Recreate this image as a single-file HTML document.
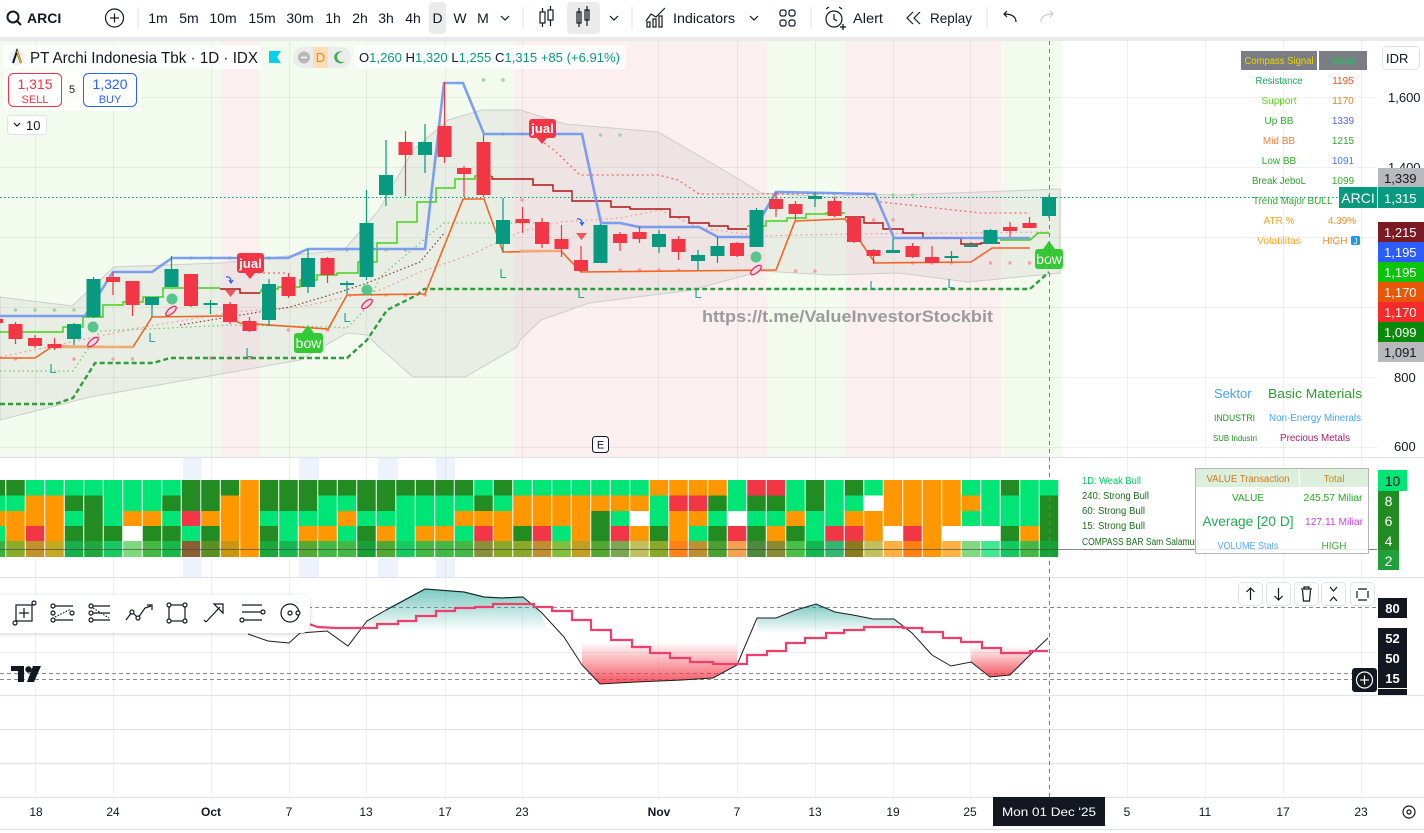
<!DOCTYPE html>
<html><head><meta charset="utf-8"><title>ARCI</title>
<style>
html,body{margin:0;padding:0;background:#fff;width:1424px;height:833px;overflow:hidden}
svg{display:block;font-family:"Liberation Sans",Arial,sans-serif}
.D{fill:#228b22}.G{fill:#00e676}.O{fill:#ff9800}.R{fill:#f23645}.W{fill:#ffffff}
.tb{font-size:14px;fill:#131722;text-anchor:middle}
.ax{font-size:13px;fill:#131722}
.tm{font-size:12px;fill:#131722;text-anchor:middle}
.tl{font-size:10px;text-anchor:middle}
.L{font-size:13px;fill:#26a69a;text-anchor:middle}
</style></head><body>
<svg width="1424" height="833" viewBox="0 0 1424 833" xmlns="http://www.w3.org/2000/svg">
<defs>
<linearGradient id="tg" x1="0" y1="0" x2="0" y2="1"><stop offset="0" stop-color="#26a69a" stop-opacity=".6"/><stop offset="1" stop-color="#26a69a" stop-opacity="0"/></linearGradient>
<linearGradient id="rg" x1="0" y1="0" x2="0" y2="1"><stop offset="0" stop-color="#f23645" stop-opacity="0"/><stop offset="1" stop-color="#f23645" stop-opacity=".85"/></linearGradient>
<filter id="sh" x="-10%" y="-30%" width="120%" height="160%"><feDropShadow dx="0" dy="1" stdDeviation="2" flood-color="#000" flood-opacity=".18"/></filter>
</defs>
<rect width="1424" height="833" fill="#fff"/>

<!-- TOP TOOLBAR -->
<rect x="0" y="37" width="1424" height="4" fill="#e9e9ea"/>
<circle cx="13" cy="17" r="5.5" fill="none" stroke="#131722" stroke-width="2"/>
<line x1="17" y1="21" x2="21" y2="25" stroke="#131722" stroke-width="2"/>
<text x="27" y="23" font-size="14" font-weight="bold" fill="#131722">ARCI</text>
<circle cx="114.5" cy="18" r="9" fill="none" stroke="#131722" stroke-width="1.2"/>
<line x1="110" y1="18" x2="119" y2="18" stroke="#131722" stroke-width="1.2"/><line x1="114.5" y1="13.5" x2="114.5" y2="22.5" stroke="#131722" stroke-width="1.2"/>
<g stroke="#e0e3eb" stroke-width="1"><line x1="138" y1="7" x2="138" y2="29"/><line x1="523" y1="7" x2="523" y2="29"/><line x1="632" y1="7" x2="632" y2="29"/><line x1="811" y1="7" x2="811" y2="29"/><line x1="987" y1="7" x2="987" y2="29"/></g>
<rect x="429" y="2" width="17" height="32" rx="4" fill="#ebebeb"/>
<rect x="567" y="2" width="33" height="32" rx="4" fill="#ebebeb"/>
<text class="tb" x="158" y="23">1m</text><text class="tb" x="189" y="23">5m</text><text class="tb" x="223" y="23">10m</text><text class="tb" x="262" y="23">15m</text><text class="tb" x="300" y="23">30m</text><text class="tb" x="333" y="23">1h</text><text class="tb" x="360" y="23">2h</text><text class="tb" x="386" y="23">3h</text><text class="tb" x="413" y="23">4h</text><text class="tb" x="437.5" y="23">D</text><text class="tb" x="460" y="23">W</text><text class="tb" x="483" y="23">M</text>
<g fill="none" stroke="#131722" stroke-width="1.2">
<polyline points="501,16 505,20 509,16"/><polyline points="610,16 614,20 618,16"/><polyline points="750,16 754,20 758,16"/>
<rect x="540" y="12" width="5" height="11"/><line x1="542.5" y1="8" x2="542.5" y2="12"/><line x1="542.5" y1="23" x2="542.5" y2="27"/>
<rect x="548" y="10" width="5" height="10"/><line x1="550.5" y1="6" x2="550.5" y2="10"/><line x1="550.5" y1="20" x2="550.5" y2="26"/>
<rect x="577" y="12" width="4" height="11"/><line x1="579" y1="8" x2="579" y2="27"/>
<rect x="585" y="10" width="4" height="10"/><line x1="587" y1="6" x2="587" y2="26"/>
<polyline points="646,21 651,14 656,17 665,8"/><rect x="647" y="22" width="3" height="5"/><rect x="653" y="19" width="3" height="8"/><rect x="659" y="16" width="3" height="11"/>
<rect x="780" y="10" width="6" height="6" rx="2"/><rect x="789" y="10" width="6" height="6" rx="2"/><rect x="780" y="20" width="6" height="6" rx="2"/><rect x="789" y="20" width="6" height="6" rx="2"/>
<circle cx="834" cy="19" r="8"/><polyline points="834,14 834,19 837,21"/><line x1="826" y1="9" x2="829" y2="7"/><line x1="842" y1="9" x2="839" y2="7"/>
<polyline points="913,12 907,18 913,24"/><polyline points="920,12 914,18 920,24"/>
<path d="M1016 22 C1016 16 1011 14 1004 14 M1007 11 L1004 14 L1007 17"/>
</g>
<g fill="none" stroke="#c9cbd1" stroke-width="1.2"><path d="M1041 22 C1041 16 1046 14 1053 14 M1050 11 L1053 14 L1050 17"/></g>
<line x1="843" y1="24" x2="843" y2="30" stroke="#131722" stroke-width="1.3"/><line x1="840" y1="27" x2="846" y2="27" stroke="#131722" stroke-width="1.3"/>
<text x="673" y="23" font-size="14" fill="#131722" textLength="62" lengthAdjust="spacingAndGlyphs">Indicators</text>
<text x="853" y="23" font-size="14" fill="#131722" textLength="30" lengthAdjust="spacingAndGlyphs">Alert</text>
<text x="930" y="23" font-size="14" fill="#131722" textLength="42" lengthAdjust="spacingAndGlyphs">Replay</text>

<!-- MAIN PANE BACKGROUND -->
<rect x="0" y="41" width="221" height="416" fill="#f3faee"/>
<rect x="221" y="41" width="39" height="416" fill="#fbefef"/>
<rect x="260" y="41" width="254" height="416" fill="#f3faee"/>
<rect x="514" y="41" width="253" height="416" fill="#fbefef"/>
<rect x="767" y="41" width="78" height="416" fill="#f3faee"/>
<rect x="845" y="41" width="156" height="416" fill="#fbefef"/>
<rect x="1001" y="41" width="61" height="416" fill="#f3faee"/>
<!-- compass pane faint columns -->
<g fill="#eef2fd"><rect x="183" y="458" width="19" height="119"/><rect x="299" y="458" width="20" height="119"/><rect x="378" y="458" width="20" height="119"/><rect x="436" y="458" width="19" height="119"/></g>

<!-- GRID -->
<g stroke="#000" stroke-opacity=".06" stroke-width="1">
<line x1="35.5" y1="41" x2="35.5" y2="797"/><line x1="113.5" y1="41" x2="113.5" y2="797"/><line x1="211.5" y1="41" x2="211.5" y2="797"/><line x1="289.5" y1="41" x2="289.5" y2="797"/><line x1="366.5" y1="41" x2="366.5" y2="797"/><line x1="445.5" y1="41" x2="445.5" y2="797"/><line x1="522.5" y1="41" x2="522.5" y2="797"/><line x1="658.5" y1="41" x2="658.5" y2="797"/><line x1="737.5" y1="41" x2="737.5" y2="797"/><line x1="815.5" y1="41" x2="815.5" y2="797"/><line x1="893.5" y1="41" x2="893.5" y2="797"/><line x1="970.5" y1="41" x2="970.5" y2="797"/><line x1="1127.5" y1="41" x2="1127.5" y2="797"/><line x1="1205.5" y1="41" x2="1205.5" y2="797"/><line x1="1283.5" y1="41" x2="1283.5" y2="797"/><line x1="1361.5" y1="41" x2="1361.5" y2="797"/>
<line x1="0" y1="97.5" x2="1377" y2="97.5"/><line x1="0" y1="167.5" x2="1377" y2="167.5"/><line x1="0" y1="237.5" x2="1377" y2="237.5"/><line x1="0" y1="307.5" x2="1377" y2="307.5"/><line x1="0" y1="377.5" x2="1377" y2="377.5"/><line x1="0" y1="447.5" x2="1377" y2="447.5"/>
<line x1="0" y1="652.5" x2="1377" y2="652.5"/>
</g>
<g stroke="#e0e3eb" stroke-width="1.2">
<line x1="0" y1="457.5" x2="1424" y2="457.5"/><line x1="0" y1="577.5" x2="1424" y2="577.5"/><line x1="0" y1="695.5" x2="1424" y2="695.5"/><line x1="0" y1="729.5" x2="1424" y2="729.5"/><line x1="0" y1="763.5" x2="1424" y2="763.5"/><line x1="0" y1="797.5" x2="1424" y2="797.5"/><line x1="0" y1="829.5" x2="1424" y2="829.5"/>
</g>

<!-- BOLLINGER -->
<path d="M0,297 L72,306 L114,267 L220,263 L344,250 L379,210 L413,150 L448,120 L482,110 L520,110 L565,124 L658,132 L727,172 L761,193 L830,197 L864,194 L899,195 L1060,189 L1060,273 L968,282 L899,273 L830,275 L761,271 L692,290 L589,303 L541,320 L520,340 L517,347 L465,377 L413,377 L379,347 L367,335 L347,333 L300,360 L187,380 L90,397 L0,420 Z" fill="#8c8c8c" fill-opacity=".1" stroke="#cdcdcd" stroke-width="1"/>

<!-- dots -->
<g fill="#f3a1a1">
<circle cx="15.5" cy="359" r="1.8"/><circle cx="74" cy="359" r="1.8"/><circle cx="113" cy="359" r="1.8"/><circle cx="132.5" cy="359" r="1.8"/><circle cx="191" cy="358" r="1.8"/><circle cx="210.5" cy="358" r="1.8"/><circle cx="230" cy="358" r="1.8"/><circle cx="249.5" cy="358" r="1.8"/><circle cx="269" cy="358" r="1.8"/><circle cx="288.5" cy="330" r="1.8"/><circle cx="327.5" cy="330" r="1.8"/><circle cx="386" cy="295" r="1.8"/><circle cx="405.5" cy="295" r="1.8"/><circle cx="425" cy="295" r="1.8"/><circle cx="620" cy="270" r="1.8"/><circle cx="639.5" cy="270" r="1.8"/><circle cx="659" cy="270" r="1.8"/><circle cx="678.5" cy="270" r="1.8"/><circle cx="795.5" cy="271" r="1.8"/><circle cx="815" cy="271" r="1.8"/><circle cx="873.5" cy="220" r="1.8"/><circle cx="893" cy="220" r="1.8"/><circle cx="912.5" cy="263" r="1.8"/><circle cx="932" cy="263" r="1.8"/><circle cx="951.5" cy="263" r="1.8"/><circle cx="990.5" cy="263" r="1.8"/><circle cx="1010" cy="263" r="1.8"/><circle cx="1029.5" cy="263" r="1.8"/><circle cx="522" cy="200" r="1.8"/>
</g>
<g fill="#9fd69f">
<circle cx="15.5" cy="310" r="1.8"/><circle cx="35" cy="310" r="1.8"/><circle cx="54.5" cy="310" r="1.8"/><circle cx="74" cy="310" r="1.8"/><circle cx="191" cy="258" r="1.8"/><circle cx="210.5" cy="258" r="1.8"/><circle cx="230" cy="258" r="1.8"/><circle cx="249.5" cy="258" r="1.8"/><circle cx="269" cy="258" r="1.8"/><circle cx="347" cy="250" r="1.8"/><circle cx="366.5" cy="250" r="1.8"/><circle cx="386" cy="250" r="1.8"/><circle cx="405.5" cy="250" r="1.8"/><circle cx="483.5" cy="80" r="1.8"/><circle cx="503" cy="80" r="1.8"/><circle cx="503" cy="134" r="1.8"/><circle cx="522.5" cy="134" r="1.8"/><circle cx="600.5" cy="135" r="1.8"/><circle cx="620" cy="135" r="1.8"/><circle cx="639.5" cy="227" r="1.8"/><circle cx="659" cy="227" r="1.8"/><circle cx="815" cy="194" r="1.8"/><circle cx="834.5" cy="194" r="1.8"/><circle cx="893" cy="195" r="1.8"/><circle cx="912.5" cy="195" r="1.8"/>
</g>

<!-- indicator lines -->
<polyline fill="none" stroke="#f0a5a5" stroke-width="1.3" stroke-dasharray="2,3" points="0,357 133,329 233,312 300,307 380,290 420,272 470,255 520,232 560,222 620,218 660,210 700,228 760,236 850,234 1049,232"/>
<polyline fill="none" stroke="#8b3a3a" stroke-width="1.2" stroke-dasharray="1.5,2.5" points="180,325 290,307 340,292 367,283 420,262 445,232"/>
<polyline fill="none" stroke="#6fc46f" stroke-width="1.2" stroke-dasharray="1.5,3" points="0,371 73,371 100,331 170,328 230,325 330,327 347,328 367,307 380,277 420,243 444,223 540,223"/>
<polyline fill="none" stroke="#f06a6a" stroke-width="1.3" stroke-dasharray="2,3" points="540,140 554,150 580,175 658,175 678,180 699,194 864,194 881,202 981,213 1030,213"/>
<polyline fill="none" stroke="#f06a6a" stroke-width="1.3" stroke-dasharray="2,3" points="253,273 288,273"/>
<polyline fill="none" stroke="#2e9e3a" stroke-width="2.4" stroke-dasharray="5,3" points="0,404 55,404 73,398 95,363 153,363 170,358 347,358 367,340 387,310 417,295 424,289 1030,289 1049,272"/>
<polyline fill="none" stroke="#f26522" stroke-width="1.6" points="0,358 35,358 53,346 133,347 152,317 223,316 240,323 328,329 347,295 425,294 463,199 484,199 503,252 561,251 581,272 776,270 795,221 845,219 875,263 971,262 992,248 1030,248"/>
<polyline fill="none" stroke="#f4a874" stroke-width="2.6" points="53,347 133,347"/>
<polyline fill="none" stroke="#f4a874" stroke-width="2.4" points="520,251 561,251"/>
<polyline fill="none" stroke="#44d11a" stroke-width="1.5" points="0,332 63,332 63,327 83,327 83,317 103,317 103,305 123,305 123,302 143,302 143,297 163,297 163,288 220,288"/>
<polyline fill="none" stroke="#44d11a" stroke-width="1.5" points="260,293 262,289 278,289 278,287 300,287 300,280 317,280 317,275 337,275 337,273 358,273 358,262 377,262 377,243 397,243 397,222 417,222 417,202 436,202 436,188 455,188 455,179 475,179 475,176 492,176"/>
<polyline fill="none" stroke="#44d11a" stroke-width="1.5" points="747,226 766,226 766,221 787,221 787,218 806,218 806,214 826,214 826,213 845,213"/>
<polyline fill="none" stroke="#44d11a" stroke-width="1.5" points="1000,240 1030,240 1038,233 1049,233"/>
<polyline fill="none" stroke="#b01515" stroke-width="1.4" points="220,289 240,289 240,293 260,293"/>
<polyline fill="none" stroke="#b01515" stroke-width="1.4" points="492,176 492,179 533,179 533,185 553,185 553,191 572,191 572,201 611,201 611,207 630,207 630,209 670,209 670,217 689,217 689,223 709,223 709,226 728,226 728,229 747,229"/>
<polyline fill="none" stroke="#b01515" stroke-width="1.4" points="845,217 864,217 864,223 883,223 883,229 903,229 903,233 923,233 923,238 961,238 961,244 981,244 981,243 1000,243"/>
<polyline fill="none" stroke="#6f95f0" stroke-width="2.6" stroke-opacity=".9" points="0,316 85,316 113,272 152,272 172,258 288,258 308,249 425,249 444,83 463,83 484,134 582,134 601,223 620,223 639,227 699,227 718,237 750,237 776,192 875,194 894,238 1030,238"/>

<!-- current price line -->
<line x1="0" y1="197.5" x2="1340" y2="197.5" stroke="#089981" stroke-width="1" stroke-dasharray="1.5,2.5"/>

<!-- CANDLES red -->
<g fill="#f23645">
<rect x="-11" y="319" width="14" height="4"/><rect x="-4.6" y="317" width="1.2" height="8"/>
<rect x="8.5" y="324" width="14" height="15"/><rect x="14.9" y="322" width="1.2" height="22"/>
<rect x="28" y="338" width="14" height="8"/><rect x="34.4" y="335" width="1.2" height="13"/>
<rect x="47.5" y="344" width="14" height="4"/><rect x="53.9" y="338" width="1.2" height="12"/>
<rect x="106" y="277" width="14" height="5"/><rect x="112.4" y="272" width="1.2" height="23"/>
<rect x="125.5" y="281" width="14" height="24"/><rect x="131.9" y="281" width="1.2" height="35"/>
<rect x="184" y="274" width="14" height="32"/><rect x="190.4" y="274" width="1.2" height="33"/>
<rect x="223" y="304" width="14" height="18"/><rect x="229.4" y="302" width="1.2" height="22"/>
<rect x="242.5" y="321" width="14" height="10"/><rect x="248.9" y="317" width="1.2" height="15"/>
<rect x="281.5" y="277" width="14" height="19"/><rect x="287.9" y="273" width="1.2" height="25"/>
<rect x="320.5" y="258" width="14" height="17"/><rect x="326.9" y="257" width="1.2" height="26"/>
<rect x="398.5" y="142" width="14" height="13"/><rect x="404.9" y="131" width="1.2" height="65"/>
<rect x="437.5" y="126" width="14" height="31"/><rect x="443.9" y="82" width="1.2" height="81"/>
<rect x="457" y="168" width="14" height="6"/><rect x="463.4" y="166" width="1.2" height="31"/>
<rect x="476.5" y="142" width="14" height="53"/><rect x="482.9" y="135" width="1.2" height="62"/>
<rect x="515.5" y="219" width="14" height="4"/><rect x="521.9" y="207" width="1.2" height="26"/>
<rect x="535" y="222" width="14" height="22"/><rect x="541.4" y="218" width="1.2" height="30"/>
<rect x="554.5" y="239" width="14" height="10"/><rect x="560.9" y="225" width="1.2" height="32"/>
<rect x="574" y="260" width="14" height="11"/><rect x="580.4" y="246" width="1.2" height="26"/>
<rect x="613" y="234" width="14" height="9"/><rect x="619.4" y="232" width="1.2" height="19"/>
<rect x="632.5" y="232" width="14" height="7"/><rect x="638.9" y="227" width="1.2" height="16"/>
<rect x="671.5" y="239" width="14" height="13"/><rect x="677.9" y="236" width="1.2" height="24"/>
<rect x="730" y="243" width="14" height="13"/><rect x="736.4" y="242" width="1.2" height="15"/>
<rect x="769" y="199" width="14" height="10"/><rect x="775.4" y="192" width="1.2" height="25"/>
<rect x="788.5" y="204" width="14" height="10"/><rect x="794.9" y="201" width="1.2" height="19"/>
<rect x="827.5" y="201" width="14" height="15"/><rect x="833.9" y="197" width="1.2" height="20"/>
<rect x="847" y="217" width="14" height="25"/><rect x="853.4" y="216" width="1.2" height="27"/>
<rect x="866.5" y="250" width="14" height="6"/><rect x="872.9" y="249" width="1.2" height="15"/>
<rect x="905.5" y="246" width="14" height="11"/><rect x="911.9" y="243" width="1.2" height="15"/>
<rect x="925" y="257" width="14" height="6"/><rect x="931.4" y="246" width="1.2" height="17"/>
<rect x="1003" y="227" width="14" height="4"/><rect x="1009.4" y="222" width="1.2" height="15"/>
<rect x="1022.5" y="223" width="14" height="5"/><rect x="1028.9" y="217" width="1.2" height="11"/>
</g>
<!-- CANDLES green -->
<g fill="#089981">
<rect x="67" y="324" width="14" height="15"/><rect x="73.4" y="323" width="1.2" height="22"/>
<rect x="86.5" y="279" width="14" height="38"/><rect x="92.9" y="277" width="1.2" height="41"/>
<rect x="145" y="297" width="14" height="8"/><rect x="151.4" y="297" width="1.2" height="20"/>
<rect x="164.5" y="269" width="14" height="18"/><rect x="170.9" y="256" width="1.2" height="31"/>
<rect x="203.5" y="303" width="14" height="2"/><rect x="209.9" y="300" width="1.2" height="14"/>
<rect x="262" y="284" width="14" height="36"/><rect x="268.4" y="279" width="1.2" height="47"/>
<rect x="301" y="258" width="14" height="29"/><rect x="307.4" y="249" width="1.2" height="44"/>
<rect x="340" y="283" width="14" height="2"/><rect x="346.4" y="281" width="1.2" height="13"/>
<rect x="359.5" y="223" width="14" height="54"/><rect x="365.9" y="190" width="1.2" height="90"/>
<rect x="379" y="175" width="14" height="20"/><rect x="385.4" y="140" width="1.2" height="66"/>
<rect x="418" y="142" width="14" height="13"/><rect x="424.4" y="124" width="1.2" height="49"/>
<rect x="496" y="220" width="14" height="24"/><rect x="502.4" y="198" width="1.2" height="54"/>
<rect x="593.5" y="225" width="14" height="38"/><rect x="599.9" y="224" width="1.2" height="39"/>
<rect x="652" y="234" width="14" height="13"/><rect x="658.4" y="230" width="1.2" height="23"/>
<rect x="691" y="255" width="14" height="6"/><rect x="697.4" y="250" width="1.2" height="20"/>
<rect x="710.5" y="246" width="14" height="10"/><rect x="716.9" y="237" width="1.2" height="26"/>
<rect x="749.5" y="210" width="14" height="37"/><rect x="755.9" y="208" width="1.2" height="39"/>
<rect x="808" y="196" width="14" height="3"/><rect x="814.4" y="192" width="1.2" height="15"/>
<rect x="886" y="250" width="14" height="3"/><rect x="892.4" y="238" width="1.2" height="15"/>
<rect x="944.5" y="256" width="14" height="2"/><rect x="950.9" y="251" width="1.2" height="11"/>
<rect x="964" y="245" width="14" height="2"/><rect x="970.4" y="242" width="1.2" height="5"/>
<rect x="983.5" y="230" width="14" height="14"/><rect x="989.9" y="229" width="1.2" height="15"/>
<rect x="1042" y="197" width="14" height="19"/><rect x="1048.4" y="195" width="1.2" height="23"/>
</g>

<!-- markers -->
<g fill="#3cc07d" fill-opacity=".85"><circle cx="93" cy="327" r="5.5"/><circle cx="172" cy="299" r="5.5"/><circle cx="367" cy="290" r="5.5"/><circle cx="756" cy="257" r="5.5"/></g>
<g fill="#fbd6e2" stroke="#e0306a" stroke-width="1.3">
<ellipse cx="93" cy="342" rx="6.5" ry="2.8" transform="rotate(-40 93 342)"/><ellipse cx="171" cy="311" rx="6.5" ry="2.8" transform="rotate(-40 171 311)"/><ellipse cx="367" cy="304" rx="6.5" ry="2.8" transform="rotate(-40 367 304)"/><ellipse cx="756" cy="270" rx="6.5" ry="2.8" transform="rotate(-40 756 270)"/></g>
<g fill="#f0545a"><polygon points="225,290 236,290 230.5,297"/><polygon points="576,233 587,233 581.5,240"/></g>
<g fill="none" stroke="#2962ff" stroke-width="1.2"><path d="M226 277 Q231 276 231 282 M229 280 L231 283 L233 280"/><path d="M577 219 Q582 218 582 224 M580 222 L582 225 L584 222"/></g>
<text class="L" x="53" y="373">L</text><text class="L" x="152" y="342">L</text><text class="L" x="249" y="357">L</text><text class="L" x="347" y="322">L</text><text class="L" x="503" y="278">L</text><text class="L" x="581" y="298">L</text><text class="L" x="698" y="298">L</text><text class="L" x="873" y="290">L</text><text class="L" x="951" y="288">L</text>
<g fill="#f23645"><rect x="237" y="253" width="27" height="20" rx="3"/><polygon points="245,273 255,273 250,279"/><rect x="529" y="119" width="27" height="19" rx="3"/><polygon points="537,138 547,138 542,144"/></g>
<text x="250.5" y="268" font-size="13" font-weight="bold" fill="#fff" text-anchor="middle">jual</text>
<text x="542.5" y="133" font-size="13" font-weight="bold" fill="#fff" text-anchor="middle">jual</text>
<g fill="#35c935"><rect x="294" y="333" width="29" height="20" rx="3"/><polygon points="302,333 314,333 308,325"/><rect x="1035" y="249" width="28" height="20" rx="3"/><polygon points="1043,249 1055,249 1049,241"/></g>
<text x="308.5" y="348" font-size="14" fill="#fff" text-anchor="middle">bow</text>
<text x="1049" y="264" font-size="14" fill="#fff" text-anchor="middle">bow</text>

<text x="702" y="322" font-size="17" font-weight="bold" fill="#9b9b9b" textLength="291" lengthAdjust="spacingAndGlyphs">https://t.me/ValueInvestorStockbit</text>
<rect x="592.5" y="436.5" width="16" height="16" rx="3" fill="#fff" stroke="#131722"/>
<text x="600.5" y="448.5" font-size="11" fill="#131722" text-anchor="middle">E</text>

<!-- LEGEND -->
<rect x="3" y="45" width="258" height="24" fill="#fff" fill-opacity=".75"/>
<rect x="354" y="45" width="272" height="24" fill="#fff" fill-opacity=".75"/>
<rect x="3" y="70" width="138" height="41" fill="#fff" fill-opacity=".75"/>
<circle cx="17" cy="57" r="8" fill="#eef0f3"/>
<path d="M13 63 L17 51 L21 63" fill="none" stroke="#131722" stroke-width="2"/><path d="M17 51 L21 63" stroke="#f0b90b" stroke-width="1.4"/>
<text x="30" y="63" font-size="16" fill="#131722" textLength="228" lengthAdjust="spacingAndGlyphs">PT Archi Indonesia Tbk · 1D · IDX</text>
<path d="M269 51 H281 L277 57 L281 63 H269 Z" fill="#00d0e8"/>
<rect x="293" y="47" width="58" height="21" rx="10" fill="#ececec"/>
<circle cx="304" cy="57.5" r="6" fill="#b8b8b8"/><line x1="301" y1="57.5" x2="307" y2="57.5" stroke="#fff" stroke-width="1.5"/>
<rect x="313" y="47" width="15" height="21" fill="#fddcb8"/>
<text x="320.5" y="62" font-size="13" fill="#f08c00" text-anchor="middle">D</text>
<path d="M343 52 A6 6 0 1 0 345 61 A5 5 0 1 1 343 52 Z" fill="#37b24d"/>
<text x="359" y="62" font-size="13" fill="#089981" textLength="261" lengthAdjust="spacingAndGlyphs"><tspan fill="#131722">O</tspan>1,260 <tspan fill="#131722">H</tspan>1,320 <tspan fill="#131722">L</tspan>1,255 <tspan fill="#131722">C</tspan>1,315 +85 (+6.91%)</text>
<rect x="8.5" y="73.5" width="53" height="33" rx="5" fill="#fff" stroke="#f23645"/>
<text x="35" y="89" font-size="14" fill="#f23645" text-anchor="middle">1,315</text>
<text x="35" y="103" font-size="11" fill="#f23645" text-anchor="middle">SELL</text>
<text x="72" y="93" font-size="11" fill="#131722" text-anchor="middle">5</text>
<rect x="83.5" y="73.5" width="53" height="33" rx="5" fill="#fff" stroke="#2962ff"/>
<text x="110" y="89" font-size="14" fill="#2962ff" text-anchor="middle">1,320</text>
<text x="110" y="103" font-size="11" fill="#2962ff" text-anchor="middle">BUY</text>
<rect x="7.5" y="115.5" width="39" height="19" rx="3" fill="#fff" stroke="#e0e3eb"/>
<polyline points="14,123 17,126 20,123" fill="none" stroke="#131722" stroke-width="1.2"/>
<text x="26" y="130" font-size="13" fill="#131722">10</text>

<!-- COMPASS TABLE -->
<rect x="1241" y="51" width="76" height="19" fill="#7b7d85"/><rect x="1319" y="51" width="48" height="19" fill="#7b7d85"/>
<text class="tl" x="1279" y="64" fill="#ecd500" textLength="69" lengthAdjust="spacingAndGlyphs">Compass Signal</text>
<text class="tl" x="1343" y="64" fill="#19c75b">Value</text>
<text class="tl" x="1279" y="84" fill="#19a85a" textLength="47" lengthAdjust="spacingAndGlyphs">Resistance</text><text class="tl" x="1343" y="84" fill="#f0501e">1195</text>
<text class="tl" x="1279" y="104" fill="#5ccd18">Support</text><text class="tl" x="1343" y="104" fill="#d88a1e">1170</text>
<text class="tl" x="1279" y="124" fill="#2eaa2e">Up BB</text><text class="tl" x="1343" y="124" fill="#4a6cf0">1339</text>
<text class="tl" x="1279" y="144" fill="#f0803c">Mid BB</text><text class="tl" x="1343" y="144" fill="#2eaa2e">1215</text>
<text class="tl" x="1279" y="164" fill="#2eaa2e">Low BB</text><text class="tl" x="1343" y="164" fill="#4a78f0">1091</text>
<text class="tl" x="1279" y="184" fill="#2a9d2a" textLength="54" lengthAdjust="spacingAndGlyphs">Break JeboL</text><text class="tl" x="1343" y="184" fill="#2eaa2e">1099</text>
<text class="tl" x="1279" y="204" fill="#2eaa2e" textLength="52" lengthAdjust="spacingAndGlyphs">Trend Major</text><text class="tl" x="1320" y="204" fill="#2eaa2e" text-anchor="start">BULL</text>
<text class="tl" x="1279" y="224" fill="#f5a623">ATR %</text><text class="tl" x="1342" y="224" fill="#f0902a">4.39%</text>
<text class="tl" x="1279" y="244" fill="#f5a623" textLength="44" lengthAdjust="spacingAndGlyphs">Volatilitas</text><text class="tl" x="1335" y="244" fill="#f0902a">HIGH</text>
<rect x="1351" y="236" width="9" height="9" rx="1.5" fill="#2196f3"/><text x="1355.5" y="244" font-size="8" fill="#fff" text-anchor="middle">J</text>

<!-- SEKTOR -->
<text x="1214" y="398" font-size="13" fill="#45a5f5">Sektor</text>
<text x="1268" y="398" font-size="13" fill="#2e9e2e" textLength="94" lengthAdjust="spacingAndGlyphs">Basic Materials</text>
<text x="1214" y="421" font-size="9" fill="#1f8f1f" textLength="41" lengthAdjust="spacingAndGlyphs">INDUSTRI</text>
<text x="1269" y="421" font-size="10" fill="#45a5f5" textLength="92" lengthAdjust="spacingAndGlyphs">Non-Energy Minerals</text>
<text x="1213" y="441" font-size="8.5" fill="#1f8f1f" textLength="44" lengthAdjust="spacingAndGlyphs">SUB Industri</text>
<text x="1280" y="441" font-size="10" fill="#a0206a" textLength="70" lengthAdjust="spacingAndGlyphs">Precious Metals</text>

<!-- PRICE AXIS -->
<rect x="1382.5" y="46.5" width="37" height="23" rx="4" fill="#fff" stroke="#e0e3eb"/>
<text x="1386" y="63" font-size="13" fill="#131722">IDR</text>
<text class="ax" x="1388" y="102">1,600</text>
<text class="ax" x="1388" y="172">1,400</text>
<text class="ax" x="1394" y="382">800</text>
<text class="ax" x="1394" y="451">600</text>
<rect x="1378" y="168" width="46" height="20" fill="#b8b9bd"/><text class="ax" x="1384" y="183">1,339</text>
<rect x="1339" y="187" width="38" height="21" fill="#089981"/><text x="1358" y="203" font-size="14" fill="#fff" text-anchor="middle">ARCI</text>
<rect x="1378" y="187" width="46" height="21" fill="#089981"/><text x="1384" y="203" font-size="13" fill="#fff">1,315</text>
<rect x="1378" y="222" width="46" height="20" fill="#7b1a22"/><text x="1384" y="237" font-size="13" fill="#fff">1,215</text>
<rect x="1378" y="242" width="46" height="20" fill="#2b5cff"/><text x="1384" y="257" font-size="13" fill="#fff">1,195</text>
<rect x="1378" y="262" width="46" height="20" fill="#0cc40c"/><text x="1384" y="277" font-size="13" fill="#fff">1,195</text>
<rect x="1378" y="282" width="46" height="20" fill="#e8560a"/><text x="1384" y="297" font-size="13" fill="#fff">1,170</text>
<rect x="1378" y="302" width="46" height="20" fill="#f52a2a"/><text x="1384" y="317" font-size="13" fill="#fff">1,170</text>
<rect x="1378" y="322" width="46" height="20" fill="#0a8a0a"/><text x="1384" y="337" font-size="13" fill="#fff">1,099</text>
<rect x="1378" y="342" width="46" height="20" fill="#b8b9bd"/><text x="1384" y="357" font-size="13" fill="#131722">1,091</text>

<!-- HEATMAP -->
<g>
<g transform="translate(-13.25)"><rect y="480" width="18.5" height="15.5" class="D"/><rect y="495.5" width="18.5" height="15.5" class="G"/><rect y="511" width="18.5" height="15" class="O"/><rect y="526" width="18.5" height="15" class="G"/><rect y="541" width="18.5" height="16" fill="#3cb043"/></g>
<g transform="translate(6.25)"><rect y="480" width="18.5" height="15.5" class="D"/><rect y="495.5" width="18.5" height="15.5" class="G"/><rect y="511" width="18.5" height="15" class="O"/><rect y="526" width="18.5" height="15" class="O"/><rect y="541" width="18.5" height="16" fill="#8aac2a"/></g>
<g transform="translate(25.75)"><rect y="480" width="18.5" height="15.5" class="G"/><rect y="495.5" width="18.5" height="15.5" class="O"/><rect y="511" width="18.5" height="15" class="O"/><rect y="526" width="18.5" height="15" class="R"/><rect y="541" width="18.5" height="16" fill="#c4922a"/></g>
<g transform="translate(45.25)"><rect y="480" width="18.5" height="15.5" class="G"/><rect y="495.5" width="18.5" height="15.5" class="O"/><rect y="511" width="18.5" height="15" class="O"/><rect y="526" width="18.5" height="15" class="O"/><rect y="541" width="18.5" height="16" fill="#c4aa22"/></g>
<g transform="translate(64.75)"><rect y="480" width="18.5" height="15.5" class="G"/><rect y="495.5" width="18.5" height="15.5" class="D"/><rect y="511" width="18.5" height="15" class="G"/><rect y="526" width="18.5" height="15" class="D"/><rect y="541" width="18.5" height="16" fill="#17b04a"/></g>
<g transform="translate(84.25)"><rect y="480" width="18.5" height="15.5" class="G"/><rect y="495.5" width="18.5" height="15.5" class="D"/><rect y="511" width="18.5" height="15" class="D"/><rect y="526" width="18.5" height="15" class="D"/><rect y="541" width="18.5" height="16" fill="#1ea83c"/></g>
<g transform="translate(103.75)"><rect y="480" width="18.5" height="15.5" class="G"/><rect y="495.5" width="18.5" height="15.5" class="G"/><rect y="511" width="18.5" height="15" class="G"/><rect y="526" width="18.5" height="15" class="D"/><rect y="541" width="18.5" height="16" fill="#18c860"/></g>
<g transform="translate(123.25)"><rect y="480" width="18.5" height="15.5" class="G"/><rect y="495.5" width="18.5" height="15.5" class="G"/><rect y="511" width="18.5" height="15" class="O"/><rect y="526" width="18.5" height="15" class="W"/><rect y="541" width="18.5" height="16" fill="#7ed87e"/></g>
<g transform="translate(142.75)"><rect y="480" width="18.5" height="15.5" class="G"/><rect y="495.5" width="18.5" height="15.5" class="G"/><rect y="511" width="18.5" height="15" class="O"/><rect y="526" width="18.5" height="15" class="D"/><rect y="541" width="18.5" height="16" fill="#45b845"/></g>
<g transform="translate(162.25)"><rect y="480" width="18.5" height="15.5" class="G"/><rect y="495.5" width="18.5" height="15.5" class="D"/><rect y="511" width="18.5" height="15" class="G"/><rect y="526" width="18.5" height="15" class="D"/><rect y="541" width="18.5" height="16" fill="#18b848"/></g>
<g transform="translate(181.75)"><rect y="480" width="18.5" height="15.5" class="D"/><rect y="495.5" width="18.5" height="15.5" class="D"/><rect y="511" width="18.5" height="15" class="R"/><rect y="526" width="18.5" height="15" class="G"/><rect y="541" width="18.5" height="16" fill="#8a6030"/></g>
<g transform="translate(201.25)"><rect y="480" width="18.5" height="15.5" class="D"/><rect y="495.5" width="18.5" height="15.5" class="D"/><rect y="511" width="18.5" height="15" class="O"/><rect y="526" width="18.5" height="15" class="D"/><rect y="541" width="18.5" height="16" fill="#5a9020"/></g>
<g transform="translate(220.75)"><rect y="480" width="18.5" height="15.5" class="D"/><rect y="495.5" width="18.5" height="15.5" class="O"/><rect y="511" width="18.5" height="15" class="O"/><rect y="526" width="18.5" height="15" class="O"/><rect y="541" width="18.5" height="16" fill="#c89610"/></g>
<g transform="translate(240.25)"><rect y="480" width="18.5" height="15.5" class="O"/><rect y="495.5" width="18.5" height="15.5" class="O"/><rect y="511" width="18.5" height="15" class="O"/><rect y="526" width="18.5" height="15" class="O"/><rect y="541" width="18.5" height="16" fill="#ff9800"/></g>
<g transform="translate(259.75)"><rect y="480" width="18.5" height="15.5" class="D"/><rect y="495.5" width="18.5" height="15.5" class="D"/><rect y="511" width="18.5" height="15" class="G"/><rect y="526" width="18.5" height="15" class="D"/><rect y="541" width="18.5" height="16" fill="#1aa83a"/></g>
<g transform="translate(279.25)"><rect y="480" width="18.5" height="15.5" class="D"/><rect y="495.5" width="18.5" height="15.5" class="D"/><rect y="511" width="18.5" height="15" class="G"/><rect y="526" width="18.5" height="15" class="G"/><rect y="541" width="18.5" height="16" fill="#14b850"/></g>
<g transform="translate(298.75)"><rect y="480" width="18.5" height="15.5" class="D"/><rect y="495.5" width="18.5" height="15.5" class="D"/><rect y="511" width="18.5" height="15" class="G"/><rect y="526" width="18.5" height="15" class="O"/><rect y="541" width="18.5" height="16" fill="#55a830"/></g>
<g transform="translate(318.25)"><rect y="480" width="18.5" height="15.5" class="D"/><rect y="495.5" width="18.5" height="15.5" class="G"/><rect y="511" width="18.5" height="15" class="G"/><rect y="526" width="18.5" height="15" class="O"/><rect y="541" width="18.5" height="16" fill="#44b844"/></g>
<g transform="translate(337.75)"><rect y="480" width="18.5" height="15.5" class="D"/><rect y="495.5" width="18.5" height="15.5" class="G"/><rect y="511" width="18.5" height="15" class="O"/><rect y="526" width="18.5" height="15" class="G"/><rect y="541" width="18.5" height="16" fill="#44b844"/></g>
<g transform="translate(357.25)"><rect y="480" width="18.5" height="15.5" class="D"/><rect y="495.5" width="18.5" height="15.5" class="D"/><rect y="511" width="18.5" height="15" class="G"/><rect y="526" width="18.5" height="15" class="D"/><rect y="541" width="18.5" height="16" fill="#18a038"/></g>
<g transform="translate(376.75)"><rect y="480" width="18.5" height="15.5" class="D"/><rect y="495.5" width="18.5" height="15.5" class="D"/><rect y="511" width="18.5" height="15" class="G"/><rect y="526" width="18.5" height="15" class="O"/><rect y="541" width="18.5" height="16" fill="#50a830"/></g>
<g transform="translate(396.25)"><rect y="480" width="18.5" height="15.5" class="D"/><rect y="495.5" width="18.5" height="15.5" class="G"/><rect y="511" width="18.5" height="15" class="G"/><rect y="526" width="18.5" height="15" class="G"/><rect y="541" width="18.5" height="16" fill="#18c860"/></g>
<g transform="translate(415.75)"><rect y="480" width="18.5" height="15.5" class="D"/><rect y="495.5" width="18.5" height="15.5" class="G"/><rect y="511" width="18.5" height="15" class="G"/><rect y="526" width="18.5" height="15" class="O"/><rect y="541" width="18.5" height="16" fill="#44b844"/></g>
<g transform="translate(435.25)"><rect y="480" width="18.5" height="15.5" class="D"/><rect y="495.5" width="18.5" height="15.5" class="G"/><rect y="511" width="18.5" height="15" class="G"/><rect y="526" width="18.5" height="15" class="O"/><rect y="541" width="18.5" height="16" fill="#44b844"/></g>
<g transform="translate(454.75)"><rect y="480" width="18.5" height="15.5" class="D"/><rect y="495.5" width="18.5" height="15.5" class="G"/><rect y="511" width="18.5" height="15" class="O"/><rect y="526" width="18.5" height="15" class="G"/><rect y="541" width="18.5" height="16" fill="#44b844"/></g>
<g transform="translate(474.25)"><rect y="480" width="18.5" height="15.5" class="G"/><rect y="495.5" width="18.5" height="15.5" class="D"/><rect y="511" width="18.5" height="15" class="O"/><rect y="526" width="18.5" height="15" class="R"/><rect y="541" width="18.5" height="16" fill="#8a9038"/></g>
<g transform="translate(493.75)"><rect y="480" width="18.5" height="15.5" class="D"/><rect y="495.5" width="18.5" height="15.5" class="G"/><rect y="511" width="18.5" height="15" class="O"/><rect y="526" width="18.5" height="15" class="O"/><rect y="541" width="18.5" height="16" fill="#8aa828"/></g>
<g transform="translate(513.25)"><rect y="480" width="18.5" height="15.5" class="G"/><rect y="495.5" width="18.5" height="15.5" class="O"/><rect y="511" width="18.5" height="15" class="O"/><rect y="526" width="18.5" height="15" class="D"/><rect y="541" width="18.5" height="16" fill="#8aa828"/></g>
<g transform="translate(532.75)"><rect y="480" width="18.5" height="15.5" class="G"/><rect y="495.5" width="18.5" height="15.5" class="O"/><rect y="511" width="18.5" height="15" class="O"/><rect y="526" width="18.5" height="15" class="R"/><rect y="541" width="18.5" height="16" fill="#c09030"/></g>
<g transform="translate(552.25)"><rect y="480" width="18.5" height="15.5" class="G"/><rect y="495.5" width="18.5" height="15.5" class="O"/><rect y="511" width="18.5" height="15" class="O"/><rect y="526" width="18.5" height="15" class="G"/><rect y="541" width="18.5" height="16" fill="#84bc3c"/></g>
<g transform="translate(571.75)"><rect y="480" width="18.5" height="15.5" class="G"/><rect y="495.5" width="18.5" height="15.5" class="O"/><rect y="511" width="18.5" height="15" class="O"/><rect y="526" width="18.5" height="15" class="O"/><rect y="541" width="18.5" height="16" fill="#c0a020"/></g>
<g transform="translate(591.25)"><rect y="480" width="18.5" height="15.5" class="G"/><rect y="495.5" width="18.5" height="15.5" class="O"/><rect y="511" width="18.5" height="15" class="D"/><rect y="526" width="18.5" height="15" class="D"/><rect y="541" width="18.5" height="16" fill="#50a830"/></g>
<g transform="translate(610.75)"><rect y="480" width="18.5" height="15.5" class="G"/><rect y="495.5" width="18.5" height="15.5" class="O"/><rect y="511" width="18.5" height="15" class="G"/><rect y="526" width="18.5" height="15" class="R"/><rect y="541" width="18.5" height="16" fill="#7aa850"/></g>
<g transform="translate(630.25)"><rect y="480" width="18.5" height="15.5" class="G"/><rect y="495.5" width="18.5" height="15.5" class="O"/><rect y="511" width="18.5" height="15" class="W"/><rect y="526" width="18.5" height="15" class="O"/><rect y="541" width="18.5" height="16" fill="#c0c060"/></g>
<g transform="translate(649.75)"><rect y="480" width="18.5" height="15.5" class="O"/><rect y="495.5" width="18.5" height="15.5" class="G"/><rect y="511" width="18.5" height="15" class="G"/><rect y="526" width="18.5" height="15" class="D"/><rect y="541" width="18.5" height="16" fill="#8aa828"/></g>
<g transform="translate(669.25)"><rect y="480" width="18.5" height="15.5" class="O"/><rect y="495.5" width="18.5" height="15.5" class="R"/><rect y="511" width="18.5" height="15" class="O"/><rect y="526" width="18.5" height="15" class="O"/><rect y="541" width="18.5" height="16" fill="#ff8018"/></g>
<g transform="translate(688.75)"><rect y="480" width="18.5" height="15.5" class="O"/><rect y="495.5" width="18.5" height="15.5" class="R"/><rect y="511" width="18.5" height="15" class="O"/><rect y="526" width="18.5" height="15" class="G"/><rect y="541" width="18.5" height="16" fill="#c09030"/></g>
<g transform="translate(708.25)"><rect y="480" width="18.5" height="15.5" class="O"/><rect y="495.5" width="18.5" height="15.5" class="D"/><rect y="511" width="18.5" height="15" class="G"/><rect y="526" width="18.5" height="15" class="D"/><rect y="541" width="18.5" height="16" fill="#4aa030"/></g>
<g transform="translate(727.75)"><rect y="480" width="18.5" height="15.5" class="G"/><rect y="495.5" width="18.5" height="15.5" class="G"/><rect y="511" width="18.5" height="15" class="W"/><rect y="526" width="18.5" height="15" class="R"/><rect y="541" width="18.5" height="16" fill="#f8a050"/></g>
<g transform="translate(747.25)"><rect y="480" width="18.5" height="15.5" class="R"/><rect y="495.5" width="18.5" height="15.5" class="D"/><rect y="511" width="18.5" height="15" class="G"/><rect y="526" width="18.5" height="15" class="D"/><rect y="541" width="18.5" height="16" fill="#4a8a3a"/></g>
<g transform="translate(766.75)"><rect y="480" width="18.5" height="15.5" class="R"/><rect y="495.5" width="18.5" height="15.5" class="D"/><rect y="511" width="18.5" height="15" class="G"/><rect y="526" width="18.5" height="15" class="O"/><rect y="541" width="18.5" height="16" fill="#8a8a30"/></g>
<g transform="translate(786.25)"><rect y="480" width="18.5" height="15.5" class="G"/><rect y="495.5" width="18.5" height="15.5" class="G"/><rect y="511" width="18.5" height="15" class="O"/><rect y="526" width="18.5" height="15" class="D"/><rect y="541" width="18.5" height="16" fill="#48c048"/></g>
<g transform="translate(805.75)"><rect y="480" width="18.5" height="15.5" class="D"/><rect y="495.5" width="18.5" height="15.5" class="D"/><rect y="511" width="18.5" height="15" class="G"/><rect y="526" width="18.5" height="15" class="G"/><rect y="541" width="18.5" height="16" fill="#14b850"/></g>
<g transform="translate(825.25)"><rect y="480" width="18.5" height="15.5" class="G"/><rect y="495.5" width="18.5" height="15.5" class="G"/><rect y="511" width="18.5" height="15" class="G"/><rect y="526" width="18.5" height="15" class="R"/><rect y="541" width="18.5" height="16" fill="#30b870"/></g>
<g transform="translate(844.75)"><rect y="480" width="18.5" height="15.5" class="D"/><rect y="495.5" width="18.5" height="15.5" class="G"/><rect y="511" width="18.5" height="15" class="O"/><rect y="526" width="18.5" height="15" class="R"/><rect y="541" width="18.5" height="16" fill="#8a7a20"/></g>
<g transform="translate(864.25)"><rect y="480" width="18.5" height="15.5" class="G"/><rect y="495.5" width="18.5" height="15.5" class="W"/><rect y="511" width="18.5" height="15" class="O"/><rect y="526" width="18.5" height="15" class="O"/><rect y="541" width="18.5" height="16" fill="#c0c060"/></g>
<g transform="translate(883.75)"><rect y="480" width="18.5" height="15.5" class="O"/><rect y="495.5" width="18.5" height="15.5" class="O"/><rect y="511" width="18.5" height="15" class="O"/><rect y="526" width="18.5" height="15" class="W"/><rect y="541" width="18.5" height="16" fill="#ffb040"/></g>
<g transform="translate(903.25)"><rect y="480" width="18.5" height="15.5" class="O"/><rect y="495.5" width="18.5" height="15.5" class="O"/><rect y="511" width="18.5" height="15" class="O"/><rect y="526" width="18.5" height="15" class="R"/><rect y="541" width="18.5" height="16" fill="#ff8010"/></g>
<g transform="translate(922.75)"><rect y="480" width="18.5" height="15.5" class="O"/><rect y="495.5" width="18.5" height="15.5" class="O"/><rect y="511" width="18.5" height="15" class="O"/><rect y="526" width="18.5" height="15" class="O"/><rect y="541" width="18.5" height="16" fill="#ff9800"/></g>
<g transform="translate(942.25)"><rect y="480" width="18.5" height="15.5" class="O"/><rect y="495.5" width="18.5" height="15.5" class="O"/><rect y="511" width="18.5" height="15" class="O"/><rect y="526" width="18.5" height="15" class="W"/><rect y="541" width="18.5" height="16" fill="#ffb040"/></g>
<g transform="translate(961.75)"><rect y="480" width="18.5" height="15.5" class="G"/><rect y="495.5" width="18.5" height="15.5" class="O"/><rect y="511" width="18.5" height="15" class="G"/><rect y="526" width="18.5" height="15" class="W"/><rect y="541" width="18.5" height="16" fill="#80d880"/></g>
<g transform="translate(981.25)"><rect y="480" width="18.5" height="15.5" class="G"/><rect y="495.5" width="18.5" height="15.5" class="G"/><rect y="511" width="18.5" height="15" class="G"/><rect y="526" width="18.5" height="15" class="W"/><rect y="541" width="18.5" height="16" fill="#40e890"/></g>
<g transform="translate(1000.75)"><rect y="480" width="18.5" height="15.5" class="D"/><rect y="495.5" width="18.5" height="15.5" class="G"/><rect y="511" width="18.5" height="15" class="G"/><rect y="526" width="18.5" height="15" class="D"/><rect y="541" width="18.5" height="16" fill="#14c860"/></g>
<g transform="translate(1020.25)"><rect y="480" width="18.5" height="15.5" class="G"/><rect y="495.5" width="18.5" height="15.5" class="G"/><rect y="511" width="18.5" height="15" class="G"/><rect y="526" width="18.5" height="15" class="O"/><rect y="541" width="18.5" height="16" fill="#44b844"/></g>
<g transform="translate(1039.75)"><rect y="480" width="18.5" height="15.5" class="G"/><rect y="495.5" width="18.5" height="15.5" class="D"/><rect y="511" width="18.5" height="15" class="D"/><rect y="526" width="18.5" height="15" class="D"/><rect y="541" width="18.5" height="16" fill="#18a038"/></g>
</g>
<line x1="0" y1="549.5" x2="1377" y2="549.5" stroke="#444" stroke-opacity=".65" stroke-width="1"/>

<!-- compass labels -->
<text x="1082" y="484" font-size="10" fill="#00c864" textLength="59" lengthAdjust="spacingAndGlyphs">1D: Weak Bull</text>
<text x="1082" y="499" font-size="10" fill="#1b6e1b" textLength="67" lengthAdjust="spacingAndGlyphs">240: Strong Bull</text>
<text x="1082" y="514" font-size="10" fill="#1b6e1b" textLength="63" lengthAdjust="spacingAndGlyphs">60: Strong Bull</text>
<text x="1082" y="529" font-size="10" fill="#1b6e1b" textLength="63" lengthAdjust="spacingAndGlyphs">15: Strong Bull</text>
<text x="1082" y="545" font-size="10" fill="#1b6e1b" textLength="117" lengthAdjust="spacingAndGlyphs">COMPASS BAR Sam Salamun</text>
<rect x="1195.5" y="468.5" width="173" height="85" fill="#fff" fill-opacity=".85" stroke="#b5b5b5"/>
<rect x="1196" y="469" width="172" height="18" fill="#dcefdc"/>
<line x1="1299.5" y1="469" x2="1299.5" y2="487" stroke="#fff" stroke-width="1.5"/>
<text x="1248" y="482" font-size="10" fill="#cc7a1a" text-anchor="middle" textLength="83" lengthAdjust="spacingAndGlyphs">VALUE Transaction</text>
<text x="1334" y="482" font-size="10" fill="#cc8a1a" text-anchor="middle">Total</text>
<text x="1248" y="501" font-size="10" fill="#22aa22" text-anchor="middle">VALUE</text>
<text x="1333" y="501" font-size="10" fill="#22aa22" text-anchor="middle" textLength="59" lengthAdjust="spacingAndGlyphs">245.57 Miliar</text>
<text x="1248" y="526" font-size="14" fill="#22aa55" text-anchor="middle" textLength="91" lengthAdjust="spacingAndGlyphs">Average [20 D]</text>
<text x="1334" y="525" font-size="10" fill="#cc44dd" text-anchor="middle" textLength="58" lengthAdjust="spacingAndGlyphs">127.11 Miliar</text>
<text x="1248" y="549" font-size="10" fill="#55aaff" text-anchor="middle" textLength="61" lengthAdjust="spacingAndGlyphs">VOLUME Stats</text>
<text x="1334" y="549" font-size="10" fill="#44aa44" text-anchor="middle">HIGH</text>
<rect x="1378" y="470" width="29" height="21" fill="#00e676"/><text x="1392.5" y="486" font-size="14" fill="#131722" text-anchor="middle">10</text>
<rect x="1378" y="491" width="21" height="19" fill="#228b22"/><text x="1388.5" y="506" font-size="14" fill="#fff" text-anchor="middle">8</text>
<rect x="1378" y="510" width="21" height="20" fill="#228b22"/><text x="1388.5" y="526" font-size="14" fill="#fff" text-anchor="middle">6</text>
<rect x="1378" y="530" width="21" height="20" fill="#228b22"/><text x="1388.5" y="546" font-size="14" fill="#fff" text-anchor="middle">4</text>
<rect x="1378" y="550" width="21" height="20" fill="#1fa03a"/><text x="1388.5" y="566" font-size="14" fill="#fff" text-anchor="middle">2</text>

<!-- OSCILLATOR -->
<g stroke="#8a8a8a" stroke-width="1" stroke-dasharray="4,3"><line x1="0" y1="607.5" x2="1377" y2="607.5"/><line x1="0" y1="673.5" x2="1377" y2="673.5"/><line x1="0" y1="679.5" x2="1377" y2="679.5"/></g>
<polygon fill="url(#tg)" points="367,621 386,610 425,589 464,592 484,597 502,598 523,597 541,612 548,632 367,632"/>
<polygon fill="url(#tg)" points="757,618 776,618 796,610 816,604 835,612 853,615 873,619 894,619 912,633 757,633"/>
<polygon fill="url(#rg)" points="582,642 737,642 737,665 713,678 682,680 636,682 600,684 582,665"/>
<polygon fill="url(#rg)" points="971,646 1030,646 1030,655 1010,675 990,677 971,662"/>
<polyline fill="none" stroke="#26a69a" stroke-width="1.3" points="386,610 425,589 464,592 484,597 502,598 523,597"/>
<polyline fill="none" stroke="#1e1e1e" stroke-width="1" points="248,634 268,641 289,643 300,633 327,631 348,646 367,621 386,610 425,589 464,592 484,597 502,598 523,597 541,612 564,637 582,665 600,684 636,682 682,680 713,678 737,665 757,618 776,618 796,610 816,604 835,612 853,615 873,619 894,619 912,633 932,655 951,666 971,662 990,677 1010,675 1030,655 1048,638"/>
<polyline fill="none" stroke="#ec3f6e" stroke-width="2.2" points="309,624 318,627 336,628 377,628 377,624 398,624 398,621 416,621 416,616 436,616 436,611 455,611 455,608 475,608 475,607 493,607 493,604 534,604 534,607 552,607 552,611 572,611 572,620 591,620 591,630 611,630 611,640 632,640 632,647 650,647 650,653 670,653 670,658 690,658 690,662 713,662 713,664 747,664 747,655 767,655 767,651 786,651 786,643 805,643 805,638 826,638 826,633 844,633 844,630 864,630 864,627 903,627 903,628 922,628 922,632 943,632 943,638 961,638 961,642 982,642 982,648 1001,648 1001,653 1030,653 1030,651 1048,651"/>

<!-- drawing toolbar -->
<rect x="-8" y="595" width="318" height="38" rx="8" fill="#fff" filter="url(#sh)"/>
<g fill="none" stroke="#131722" stroke-width="1.2">
<rect x="16" y="605" width="16" height="16"/><line x1="24" y1="608" x2="24" y2="618"/><line x1="19" y1="613" x2="29" y2="613"/><circle cx="34" cy="603" r="2" fill="#fff"/><circle cx="15" cy="623" r="2" fill="#fff"/>
<line x1="53" y1="606" x2="73" y2="606"/><line x1="53" y1="620" x2="73" y2="620"/><line x1="55" y1="617" x2="71" y2="609" stroke-dasharray="1.5,1.5"/><circle cx="53" cy="606" r="2" fill="#fff"/><circle cx="53" cy="613" r="2" fill="#fff"/><circle cx="53" cy="620" r="2" fill="#fff"/><circle cx="72" cy="613" r="2" fill="#fff"/>
<line x1="91" y1="606" x2="110" y2="606"/><line x1="91" y1="613" x2="110" y2="613"/><line x1="91" y1="620" x2="110" y2="620"/><line x1="93" y1="608" x2="109" y2="618" stroke-dasharray="1.5,1.5"/><circle cx="91" cy="606" r="2" fill="#fff"/><circle cx="91" cy="613" r="2" fill="#fff"/><circle cx="91" cy="620" r="2" fill="#fff"/>
<polyline points="126,620 132,612 138,618 145,608 151,606"/><circle cx="132" cy="612" r="2" fill="#fff"/><circle cx="138" cy="618" r="2" fill="#fff"/><polyline points="147,605 152,605 152,610"/>
<rect x="169" y="605" width="16" height="16"/><circle cx="169" cy="605" r="2" fill="#fff"/><circle cx="185" cy="605" r="2" fill="#fff"/><circle cx="169" cy="621" r="2" fill="#fff"/><circle cx="185" cy="621" r="2" fill="#fff"/>
<path d="M206 622 L220 607 M214 604 L223 604 L223 613 Z M206 622 L204 620"/>
<line x1="242" y1="605" x2="262" y2="605"/><line x1="242" y1="612" x2="262" y2="612"/><line x1="242" y1="620" x2="262" y2="620"/><circle cx="242" cy="620" r="2" fill="#fff"/><circle cx="263" cy="612" r="2" fill="#fff"/>
<circle cx="290" cy="613" r="9"/><circle cx="290" cy="613" r="2"/><circle cx="298" cy="613" r="2" fill="#fff"/>
</g>
<path d="M11 666 H24 V682 H18 V671 H11 Z" fill="#131722"/><circle cx="28.5" cy="669.5" r="3.2" fill="#131722"/><polygon points="33,666 41,666 34,682 27,682" fill="#131722"/>

<!-- osc right controls -->
<g fill="#fff" stroke="#e0e3eb"><rect x="1238.5" y="582.5" width="24" height="23" rx="4"/><rect x="1266.5" y="582.5" width="24" height="23" rx="4"/><rect x="1294.5" y="582.5" width="24" height="23" rx="4"/><rect x="1321.5" y="582.5" width="24" height="23" rx="4"/><rect x="1350.5" y="582.5" width="24" height="23" rx="4"/></g>
<g fill="none" stroke="#131722" stroke-width="1.2">
<line x1="1250.5" y1="588" x2="1250.5" y2="600"/><polyline points="1246.5,592 1250.5,588 1254.5,592"/>
<line x1="1278.5" y1="588" x2="1278.5" y2="600"/><polyline points="1274.5,596 1278.5,600 1282.5,596"/>
<path d="M1301 589 H1312 M1304 589 V587 H1309 V589 M1302.5 590 L1303.5 601 H1309.5 L1310.5 590"/>
<polyline points="1330,587 1333.5,591 1337,587"/><polyline points="1330,601 1333.5,597 1337,601"/>
<path d="M1358 589 H1367 M1358 600 H1367 M1357 591 V598 M1368 591 V598"/>
</g>
<rect x="1352" y="668" width="25" height="24" rx="3" fill="#131722"/>
<circle cx="1364.5" cy="680" r="8" fill="none" stroke="#fff" stroke-width="1.2"/><line x1="1360" y1="680" x2="1369" y2="680" stroke="#fff" stroke-width="1.2"/><line x1="1364.5" y1="675.5" x2="1364.5" y2="684.5" stroke="#fff" stroke-width="1.2"/>
<rect x="1378" y="598" width="29" height="20" fill="#131722"/><text x="1392.5" y="613" font-size="13" font-weight="bold" fill="#fff" text-anchor="middle">80</text>
<rect x="1378" y="628" width="29" height="20" fill="#131722"/><text x="1392.5" y="643" font-size="13" font-weight="bold" fill="#fff" text-anchor="middle">52</text>
<rect x="1378" y="648" width="29" height="20" fill="#131722"/><text x="1392.5" y="663" font-size="13" font-weight="bold" fill="#fff" text-anchor="middle">50</text>
<rect x="1378" y="668" width="29" height="20" fill="#131722"/><text x="1392.5" y="683" font-size="13" font-weight="bold" fill="#fff" text-anchor="middle">15</text>
<rect x="1378" y="689" width="29" height="6" fill="#131722"/>

<!-- crosshair -->
<line x1="1049.5" y1="41" x2="1049.5" y2="797" stroke="#7a7a7a" stroke-width="1" stroke-dasharray="4,4"/>

<!-- TIME AXIS -->
<text class="tm" x="36" y="816">18</text><text class="tm" x="113" y="816">24</text><text class="tm" x="211" y="816" font-weight="bold">Oct</text><text class="tm" x="289" y="816">7</text><text class="tm" x="366" y="816">13</text><text class="tm" x="445" y="816">17</text><text class="tm" x="522" y="816">23</text><text class="tm" x="659" y="816" font-weight="bold">Nov</text><text class="tm" x="737" y="816">7</text><text class="tm" x="815" y="816">13</text><text class="tm" x="893" y="816">19</text><text class="tm" x="970" y="816">25</text><text class="tm" x="1127" y="816">5</text><text class="tm" x="1205" y="816">11</text><text class="tm" x="1283" y="816">17</text><text class="tm" x="1361" y="816">23</text>
<rect x="993" y="797" width="112" height="29" fill="#131722"/>
<text x="1049" y="816" font-size="12" fill="#fff" text-anchor="middle" textLength="94" lengthAdjust="spacingAndGlyphs">Mon 01 Dec '25</text>
<circle cx="1409" cy="812" r="6" fill="none" stroke="#131722" stroke-width="1.2"/><circle cx="1409" cy="812" r="2" fill="none" stroke="#131722" stroke-width="1.2"/>
</svg>
</body></html>
